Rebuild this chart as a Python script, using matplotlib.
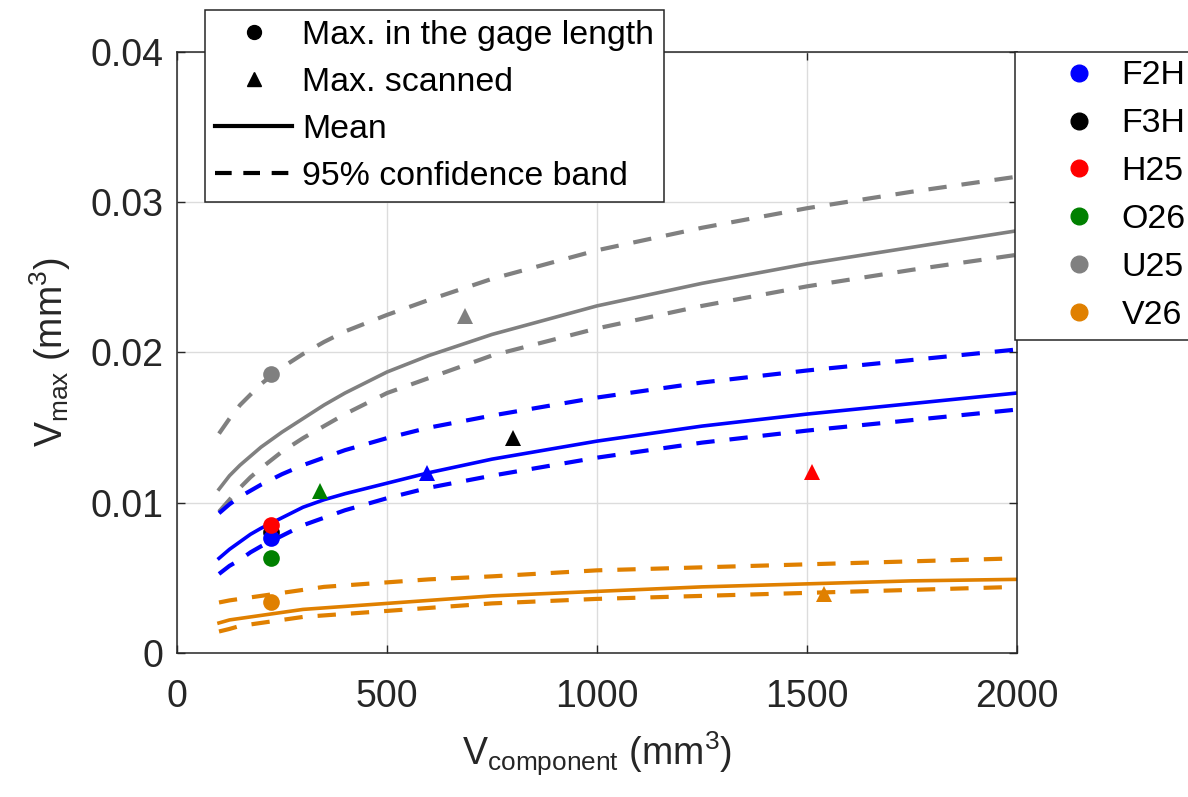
import matplotlib
matplotlib.use("Agg")
import matplotlib.pyplot as plt
from matplotlib.lines import Line2D

plt.rcParams['font.family'] = ['Liberation Sans', 'DejaVu Sans']
plt.rcParams['mathtext.fontset'] = 'custom'
plt.rcParams['mathtext.rm'] = 'Liberation Sans'
plt.rcParams['mathtext.it'] = 'Liberation Sans'

# ---- data -------------------------------------------------------------
specimens = ['F2H', 'F3H', 'H25', 'O26', 'U25', 'V26']
colors = {'F2H': '#0000FF', 'F3H': '#000000', 'H25': '#FF0000',
          'O26': '#008000', 'U25': '#808080', 'V26': '#E08000'}

# maximum defect volume within the gage length (circles)
gage_v = [224, 224, 224, 224, 224, 224]
gage_max = [0.00763, 0.00805, 0.00852, 0.00630, 0.01860, 0.00342]

# maximum defect volume of the whole scanned part (triangles)
scan_v = [595, 799, 1513, 341, 685, 1541]
scan_max = [0.01200, 0.01430, 0.01207, 0.01075, 0.02240, 0.00390]

# extreme-value fits: mean and 95% confidence band vs component volume
fit_v = [100, 125, 150, 175, 200, 250, 300, 350, 400, 500, 600, 750,
         1000, 1250, 1500, 1750, 2000]

f2h_mean = [0.0063, 0.0069, 0.0074, 0.0079, 0.0083, 0.0090, 0.0097, 0.0102, 0.0106,
            0.0113, 0.0120, 0.0129, 0.0141, 0.0151, 0.0159, 0.0166, 0.0173]
f2h_low = [0.00526, 0.0058, 0.0062, 0.0067, 0.0071, 0.0078, 0.0085, 0.0090, 0.0095,
           0.0103, 0.0110, 0.0118, 0.0130, 0.0140, 0.0148, 0.0155, 0.0162]
f2h_high = [0.0093, 0.0099, 0.0104, 0.0108, 0.0112, 0.0119, 0.0125, 0.0130, 0.0135,
            0.0143, 0.0150, 0.0158, 0.0170, 0.0180, 0.0188, 0.0195, 0.0202]

u25_mean = [0.0109, 0.0118, 0.0125, 0.0131, 0.0137, 0.0147, 0.0156, 0.0165, 0.0173,
            0.0187, 0.0198, 0.0212, 0.0231, 0.0246, 0.0259, 0.0270, 0.0281]
u25_low = [0.0094, 0.0102, 0.0110, 0.0117, 0.0123, 0.0134, 0.0143, 0.0151, 0.0159,
           0.0173, 0.0183, 0.0198, 0.0216, 0.0231, 0.0244, 0.0255, 0.0265]
u25_high = [0.0146, 0.0156, 0.0165, 0.0172, 0.0179, 0.0190, 0.0199, 0.0207, 0.0214,
            0.0225, 0.0235, 0.0249, 0.0268, 0.0283, 0.0296, 0.0307, 0.0317]

v26_mean = [0.0020, 0.0022, 0.0023, 0.0024, 0.0025, 0.0027, 0.0029, 0.0030, 0.0031,
            0.0033, 0.0035, 0.0038, 0.0041, 0.0044, 0.0046, 0.0048, 0.0049]
v26_low = [0.00143, 0.0016, 0.0018, 0.0019, 0.0020, 0.0022, 0.0024, 0.0025, 0.0026,
           0.0028, 0.0030, 0.0033, 0.0036, 0.0038, 0.0040, 0.0042, 0.0044]
v26_high = [0.00336, 0.0035, 0.0036, 0.0037, 0.0038, 0.0040, 0.0042, 0.0044, 0.0045,
            0.0047, 0.0049, 0.0051, 0.0055, 0.0057, 0.0059, 0.0061, 0.0063]

x_ticks = [0, 500, 1000, 1500, 2000]
y_ticks = [0, 0.01, 0.02, 0.03, 0.04]
y_ticklabels = ['0', '0.01', '0.02', '0.03', '0.04']

# ---- figure -----------------------------------------------------------
fig = plt.figure(figsize=(11.88, 7.97), dpi=100)
ax = fig.add_axes([0.149, 0.1807, 0.707, 0.7541])

axis_col = '#262626'
dash = (0, (4.4, 3.6))
lw_mean = 2.6
lw_band = 3.0

fits = [('U25', u25_mean, u25_low, u25_high),
        ('F2H', f2h_mean, f2h_low, f2h_high),
        ('V26', v26_mean, v26_low, v26_high)]
for name, m, lo, hi in fits:
    c = colors[name]
    ax.plot(fit_v, hi, color=c, lw=lw_band, linestyle=dash, zorder=2)
    ax.plot(fit_v, lo, color=c, lw=lw_band, linestyle=dash, zorder=2)
    ax.plot(fit_v, m, color=c, lw=lw_mean, zorder=2)

# circles: F3H underneath the others at the same component volume
order = [1, 0, 2, 3, 4, 5]
for i in order:
    ax.plot(gage_v[i], gage_max[i], 'o', color=colors[specimens[i]],
            markersize=12, markeredgewidth=0, zorder=3)
for i, name in enumerate(specimens):
    ax.plot(scan_v[i], scan_max[i], '^', color=colors[name],
            markersize=12, markeredgewidth=0, zorder=3)

ax.set_xlim(0, 2000)
ax.set_ylim(0, 0.04)
ax.set_xticks(x_ticks)
ax.set_xticklabels([str(t) for t in x_ticks])
ax.set_yticks(y_ticks)
ax.set_yticklabels(y_ticklabels)
ax.grid(True, color='#DCDCDC', linewidth=1.0)
ax.set_axisbelow(True)

ax.tick_params(axis='both', direction='in', length=6, width=1.0,
               colors=axis_col, labelsize=27, top=True, right=True)
ax.tick_params(axis='x', pad=19)
ax.tick_params(axis='y', pad=10)
for s in ax.spines.values():
    s.set_color(axis_col)
    s.set_linewidth(1.1)

ax.set_xlabel(r'V$_{\mathrm{component}}$ (mm$^{3}$)', fontsize=27,
              color=axis_col, labelpad=10)
ax.set_ylabel(r'V$_{\mathrm{max}}$ (mm$^{3}$)', fontsize=27,
              color=axis_col, labelpad=12)

# legend for the marker / line meaning
style_handles = [
    Line2D([], [], marker='o', color='black', linestyle='none', markersize=10),
    Line2D([], [], marker='^', color='black', linestyle='none', markersize=10),
    Line2D([], [], color='black', lw=3),
    Line2D([], [], color='black', lw=3, linestyle=(0, (4, 2.8))),
]
style_labels = ['Max. in the gage length', 'Max. scanned', 'Mean',
                '95% confidence band']
leg1 = fig.legend(style_handles, style_labels, loc='upper left',
                  bbox_to_anchor=(205 / 1188, 1 - 10 / 797),
                  bbox_transform=fig.transFigure, borderaxespad=0,
                  fontsize=24.4, frameon=True, fancybox=False,
                  edgecolor=axis_col, framealpha=1, handlelength=2.27,
                  handletextpad=0.3, labelspacing=0.47, borderpad=0.3)
leg1.get_frame().set_linewidth(1.1)

# legend for the specimens
spec_handles = [Line2D([], [], marker='o', color=colors[n], linestyle='none',
                       markersize=12) for n in specimens]
leg2 = fig.legend(spec_handles, specimens, loc='upper left',
                  bbox_to_anchor=(1015 / 1188, 1 - 52 / 797),
                  bbox_transform=fig.transFigure, borderaxespad=0,
                  fontsize=24.4, frameon=True, fancybox=False,
                  edgecolor=axis_col, framealpha=1, handlelength=3.3,
                  handletextpad=-0.4, labelspacing=0.5, borderpad=0.25)
leg2.get_frame().set_linewidth(1.1)

fig.savefig('out.png', dpi=100)
